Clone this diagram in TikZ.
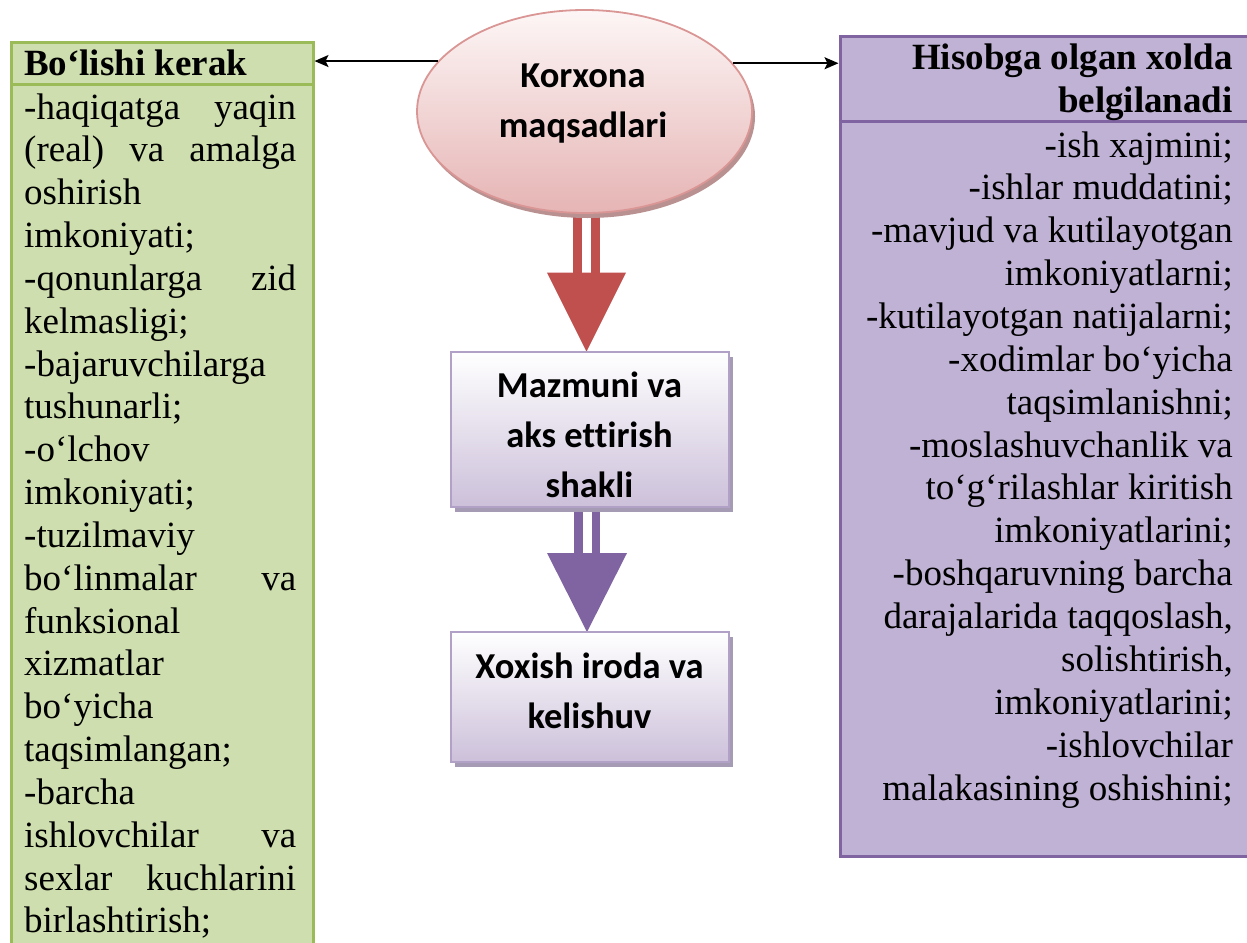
\documentclass[tikz,border=0pt]{standalone}
\usepackage{fontspec}
\setmainfont{Liberation Serif}
\newfontfamily\carlito[Ligatures=NoCommon]{Carlito}
\usetikzlibrary{arrows.meta,shapes.geometric,shadows,calc}
\definecolor{grfill}{RGB}{206,222,174}
\definecolor{grline}{RGB}{155,187,89}
\definecolor{pufill}{RGB}{191,178,212}
\definecolor{puline}{RGB}{128,100,162}
\definecolor{redc}{RGB}{192,80,77}
\definecolor{elltop}{RGB}{253,246,246}
\definecolor{ellbot}{RGB}{230,180,180}
\definecolor{elline}{RGB}{217,150,148}
\definecolor{ellshadow}{RGB}{185,145,145}
\definecolor{boxbot}{RGB}{204,192,218}
\definecolor{boxline}{RGB}{178,161,199}
\definecolor{boxshadow}{RGB}{165,155,180}
\begin{document}
\begin{tikzpicture}[x=1pt,y=-1pt,
  lt/.style={inner sep=0pt, anchor=base west, font=\fontsize{37}{42.8}\selectfont},
  rt/.style={inner sep=0pt, anchor=base east, font=\fontsize{37}{42.8}\selectfont},
  ct/.style={inner sep=0pt, anchor=base, font=\carlito\bfseries\fontsize{36.5}{49.5}\selectfont},
  conn/.style={draw=black, line width=1.8pt, -{Stealth[length=14pt,width=12pt,inset=3pt]}},
  flowbox/.style={rectangle, draw=boxline, line width=1.8pt, top color=white, bottom color=boxbot,
     minimum width=278pt, inner sep=0pt,
     drop shadow={shadow xshift=4pt, shadow yshift=-5pt, fill=boxshadow, opacity=1}}]
\useasboundingbox (0,0) rectangle (1247,942);
\clip (0,0) rectangle (1247,942);
\fill[white] (0,0) rectangle (1247,942);

% left box
\node[draw=grline, fill=grfill, line width=3pt, anchor=north west, inner sep=0pt,
      minimum width=301.5pt, minimum height=940pt] (lbox) at (10,41) {};
\node[anchor=north west, inner sep=0pt, minimum width=301.5pt, minimum height=43pt] (lhead) at (10,41) {};
\draw[grline, line width=3pt] (lhead.south west) -- (lhead.south east);
\node[lt, font=\fontsize{37}{42.8}\selectfont\bfseries] (lht) at (24,75) {Bo‘lishi kerak};
\foreach [count=\i] \t in {
  \makebox[272pt][s]{-haqiqatga yaqin},
  \makebox[272pt][s]{(real) va amalga},
  oshirish,
  imkoniyati;,
  \makebox[272pt][s]{-qonunlarga zid},
  kelmasligi;,
  -bajaruvchilarga,
  tushunarli;,
  -o‘lchov,
  imkoniyati;,
  -tuzilmaviy,
  \makebox[272pt][s]{bo‘linmalar va},
  funksional,
  xizmatlar,
  bo‘yicha,
  taqsimlangan;,
  -barcha,
  \makebox[272pt][s]{ishlovchilar va},
  \makebox[272pt][s]{sexlar kuchlarini},
  birlashtirish;}
  \node[lt] (l\i) at (24,{119+42.84*(\i-1)}) {\t};

% right box
\node[draw=puline, fill=pufill, line width=3pt, anchor=north west, inner sep=0pt,
      minimum width=440pt, minimum height=820.5pt] (rbox) at (838.5,34.7) {};
\node[anchor=north west, inner sep=0pt, minimum width=440pt, minimum height=86.3pt] (rhead) at (838.5,34.7) {};
\draw[puline, line width=3pt] (rhead.south west) -- (rhead.south east);
\node[rt, font=\fontsize{37}{42.8}\selectfont\bfseries] (rh1) at (1233,70) {Hisobga olgan xolda};
\node[rt, font=\fontsize{37}{42.8}\selectfont\bfseries] (rh2) at (1233,112) {belgilanadi};
\foreach [count=\i] \t in {
  -ish xajmini;,
  -ishlar muddatini;,
  -mavjud va kutilayotgan,
  imkoniyatlarni;,
  -kutilayotgan natijalarni;,
  -xodimlar bo‘yicha,
  taqsimlanishni;,
  -moslashuvchanlik va,
  to‘g‘rilashlar kiritish,
  imkoniyatlarini;,
  -boshqaruvning barcha,
  {darajalarida taqqoslash,},
  {solishtirish,},
  imkoniyatlarini;,
  -ishlovchilar,
  malakasining oshishini;}
  \node[rt] (r\i) at (1233,{157+42.87*(\i-1)}) {\t};

% centre nodes (positions)
\coordinate (ellc) at (584.5,111.5);
\coordinate (b1c) at (590,429.2);
\coordinate (b2c) at (590,697);

% block arrow ellipse -> box1 (drawn first, covered by shapes)
\path (b1c) ++(-3.5,-77.5) coordinate (t1);
\fill[redc] ($(t1)+(-13.5,-78)$) rectangle ($(t1)+(-4.5,-150)$);
\fill[redc] ($(t1)+(4.5,-78)$) rectangle ($(t1)+(13.5,-150)$);
\fill[redc] ($(t1)+(-39.5,-79)$) -- ($(t1)+(39.5,-79)$) -- (t1) -- cycle;

% block arrow box1 -> box2
\path (b2c) ++(-3,-65) coordinate (t2);
\fill[puline] ($(t2)+(-13,-78)$) rectangle ($(t2)+(-4.5,-140)$);
\fill[puline] ($(t2)+(4.5,-78)$) rectangle ($(t2)+(13,-140)$);
\fill[puline] ($(t2)+(-40,-79)$) -- ($(t2)+(40,-79)$) -- (t2) -- cycle;

% ellipse
\node[ellipse, draw=elline, line width=1.8pt, top color=elltop, bottom color=ellbot,
      minimum width=335pt, minimum height=203pt, inner sep=0pt,
      drop shadow={shadow xshift=3pt, shadow yshift=-5pt, fill=ellshadow, opacity=1}] (ell) at (ellc) {};
\node[ct] (ellt1) at (583,88) {Korxona};
\node[ct] (ellt2) at (583,137) {maqsadlari};

% boxes
\node[flowbox, minimum height=155pt] (b1) at (b1c) {};
\node[ct] (b1t1) at (589.5,397) {Mazmuni va};
\node[ct] (b1t2) at (589.5,447) {aks ettirish};
\node[ct] (b1t3) at (589.5,497) {shakli};
\node[flowbox, minimum height=130pt] (b2) at (b2c) {};
\node[ct] (b2t1) at (589.5,678) {Xoxish iroda va};
\node[ct] (b2t2) at (589.5,728) {kelishuv};

% connectors
\draw[conn] (ell.161.5) -- (ell.161.5 -| lbox.east);
\draw[conn] (ell.18.5) -- (ell.18.5 -| rbox.west);
\end{tikzpicture}
\end{document}
